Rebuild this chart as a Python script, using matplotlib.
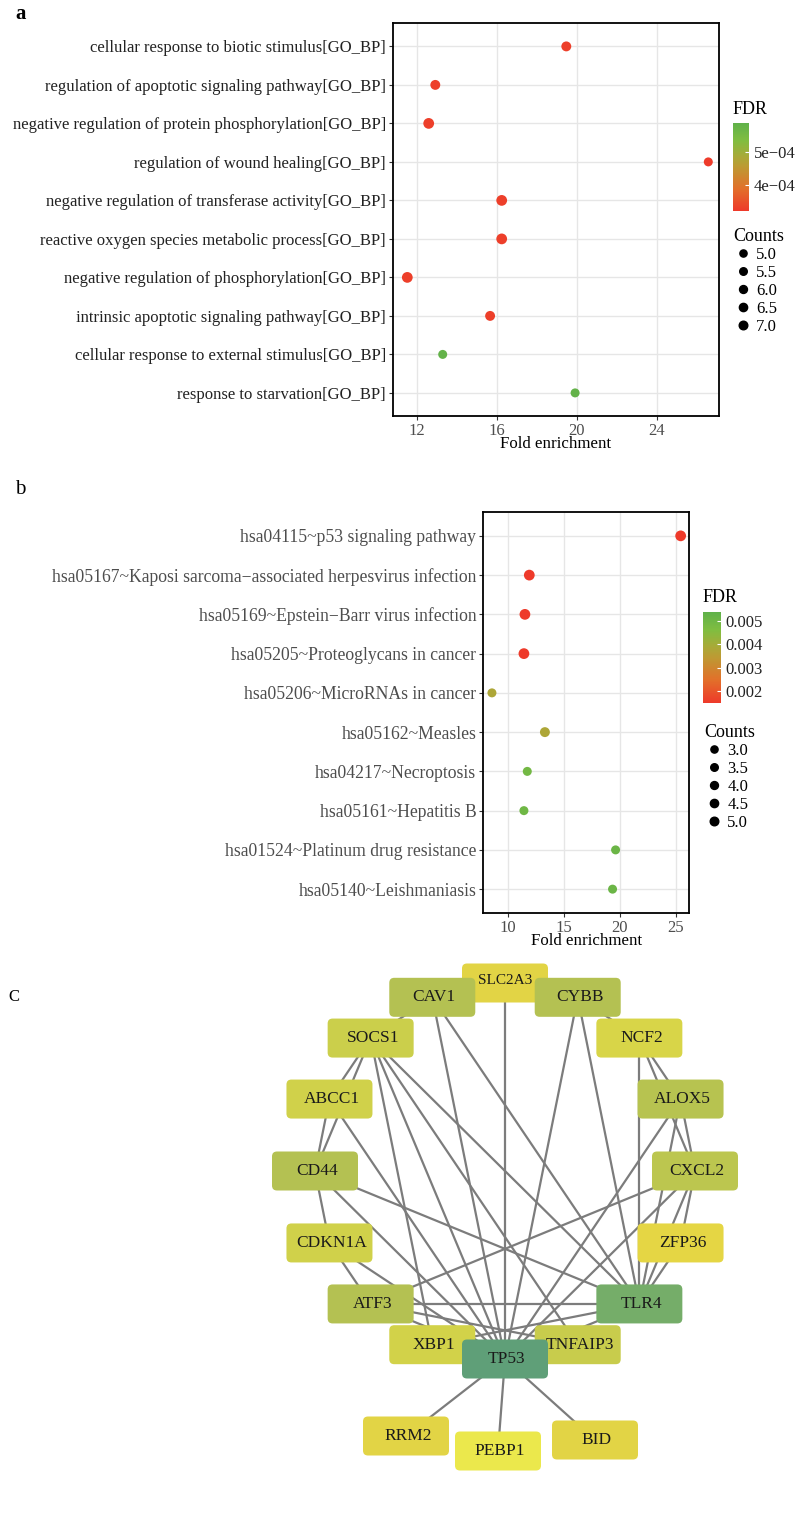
import numpy as np
import matplotlib
matplotlib.use("Agg")
import matplotlib.pyplot as plt
from matplotlib.colors import LinearSegmentedColormap, Normalize
from matplotlib.cm import ScalarMappable
from matplotlib.lines import Line2D
from matplotlib.patches import FancyBboxPatch

plt.rcParams['font.family'] = ['Liberation Serif', 'DejaVu Serif']

# ---- panel a : GO biological process ----
go_terms = [
    "cellular response to biotic stimulus[GO_BP]",
    "regulation of apoptotic signaling pathway[GO_BP]",
    "negative regulation of protein phosphorylation[GO_BP]",
    "regulation of wound healing[GO_BP]",
    "negative regulation of transferase activity[GO_BP]",
    "reactive oxygen species metabolic process[GO_BP]",
    "negative regulation of phosphorylation[GO_BP]",
    "intrinsic apoptotic signaling pathway[GO_BP]",
    "cellular response to external stimulus[GO_BP]",
    "response to starvation[GO_BP]",
]
go_fold = [19.48, 12.93, 12.6, 26.58, 16.25, 16.25, 11.53, 15.67, 13.3, 19.92]
go_fdr = [3.3e-4, 3.3e-4, 3.3e-4, 3.25e-4, 3.3e-4, 3.3e-4, 3.3e-4, 3.3e-4, 5.8e-4, 5.8e-4]
go_counts = [6, 6, 7, 5, 7, 7, 7, 6, 5, 5]
go_fdr_ticks = [4e-4, 5e-4]
go_fdr_ticklabels = ["4e\u221204", "5e\u221204"]
go_count_ticks = [5.0, 5.5, 6.0, 6.5, 7.0]
go_xticks = [12, 16, 20, 24]

# ---- panel b : KEGG pathways ----
kegg_terms = [
    "hsa04115~p53 signaling pathway",
    "hsa05167~Kaposi sarcoma\u2212associated herpesvirus infection",
    "hsa05169~Epstein\u2212Barr virus infection",
    "hsa05205~Proteoglycans in cancer",
    "hsa05206~MicroRNAs in cancer",
    "hsa05162~Measles",
    "hsa04217~Necroptosis",
    "hsa05161~Hepatitis B",
    "hsa01524~Platinum drug resistance",
    "hsa05140~Leishmaniasis",
]
kegg_fold = [25.42, 11.93, 11.54, 11.45, 8.6, 13.32, 11.75, 11.45, 19.62, 19.35]
kegg_fdr = [0.0015, 0.0015, 0.0015, 0.0015, 0.0038, 0.0038, 0.0049, 0.005, 0.0051, 0.0051]
kegg_counts = [5, 5, 5, 5, 3, 4, 3, 3, 3, 3]
kegg_fdr_ticks = [0.002, 0.003, 0.004, 0.005]
kegg_count_ticks = [3.0, 3.5, 4.0, 4.5, 5.0]
kegg_xticks = [10, 15, 20, 25]

# ---- panel C : PPI network ----
ring_genes = ["SLC2A3", "CAV1", "SOCS1", "ABCC1", "CD44", "CDKN1A", "ATF3", "XBP1",
              "TP53", "TNFAIP3", "TLR4", "ZFP36", "CXCL2", "ALOX5", "NCF2", "CYBB"]
outer_genes = ["RRM2", "PEBP1", "BID"]
edges = [
    ("SLC2A3", "TP53"),
    ("CAV1", "SOCS1"), ("CAV1", "TP53"), ("CAV1", "TLR4"),
    ("CYBB", "NCF2"), ("CYBB", "TP53"), ("CYBB", "TLR4"),
    ("SOCS1", "ABCC1"), ("SOCS1", "CD44"), ("SOCS1", "XBP1"), ("SOCS1", "TP53"),
    ("SOCS1", "TNFAIP3"), ("SOCS1", "TLR4"),
    ("ABCC1", "CD44"), ("ABCC1", "TP53"),
    ("CD44", "CDKN1A"), ("CD44", "TP53"), ("CD44", "TLR4"),
    ("CDKN1A", "ATF3"), ("CDKN1A", "TP53"),
    ("ATF3", "TLR4"), ("ATF3", "TP53"), ("ATF3", "CXCL2"), ("ATF3", "TNFAIP3"),
    ("NCF2", "ALOX5"), ("NCF2", "TLR4"), ("NCF2", "CXCL2"),
    ("ALOX5", "CXCL2"), ("ALOX5", "TLR4"), ("ALOX5", "TP53"),
    ("CXCL2", "ZFP36"), ("CXCL2", "TLR4"), ("CXCL2", "TP53"),
    ("ZFP36", "TLR4"),
    ("TLR4", "TP53"), ("TLR4", "XBP1"),
    ("XBP1", "TP53"), ("TNFAIP3", "TP53"),
    ("TP53", "RRM2"), ("TP53", "PEBP1"), ("TP53", "BID"),
]

node_colors = {
    "TP53": "#5f9f78", "TLR4": "#75ad69",
    "CAV1": "#b4c152", "CYBB": "#b4c152", "CD44": "#b4c152", "ATF3": "#b4c152",
    "ALOX5": "#b7c350", "CXCL2": "#bcc64f",
    "SOCS1": "#cbcf4b", "ABCC1": "#d0d14a", "CDKN1A": "#d0d14a", "NCF2": "#d8d548",
    "XBP1": "#d2d249", "TNFAIP3": "#c8cc4c",
    "SLC2A3": "#e2d445", "ZFP36": "#e5d644", "RRM2": "#e2d445", "BID": "#e2d445",
    "PEBP1": "#ebe84c",
}

W, H = 800, 1524
fig = plt.figure(figsize=(8, 15.24), dpi=100)


def px_box(x0, y0, x1, y1):
    return [x0 / W, 1 - y1 / H, (x1 - x0) / W, (y1 - y0) / H]


cmap = LinearSegmentedColormap.from_list(
    "fdr", [(0.0, "#ee3a2a"), (0.25, "#e2702a"), (0.5, "#bd9a33"),
            (0.62, "#a8aa38"), (0.8, "#80bd40"), (1.0, "#5fb14a")])


def dot_panel(ax, cax, terms, fold, fdr, counts, vmin, vmax, xlim, xticks,
              fdr_ticks, fdr_labels, count_ticks, count_min, count_max,
              legend_xy, fdr_title_xy, label_color, label_size):
    n = len(terms)
    ypos = np.arange(n)
    cnt = np.array(counts, dtype=float)
    sizes = 42 + (cnt - count_min) / (count_max - count_min) * 18
    norm = Normalize(vmin=vmin, vmax=vmax)
    ax.scatter(fold, ypos, c=fdr, cmap=cmap, norm=norm, s=sizes,
               edgecolors='none', zorder=3)
    ax.set_ylim(n - 0.4, -0.6)
    ax.set_xlim(*xlim)
    ax.set_yticks(ypos)
    ax.set_yticklabels(terms, fontsize=label_size, color=label_color)
    ax.set_xticks(xticks)
    ax.set_xticklabels([str(t) for t in xticks], fontsize=12, color='#4d4d4d')
    ax.grid(True, color='#e6e6e6', linewidth=1.0, zorder=0)
    ax.set_axisbelow(True)
    for sp in ax.spines.values():
        sp.set_linewidth(1.3)
        sp.set_color('black')
    ax.tick_params(axis='both', length=3, width=0.8, color='#333333', pad=2)
    ax.set_xlabel("Fold enrichment", fontsize=12.2, labelpad=-2)

    sm = ScalarMappable(norm=norm, cmap=cmap)
    cb = fig.colorbar(sm, cax=cax)
    cb.outline.set_visible(False)
    cb.set_ticks(fdr_ticks)
    cb.set_ticklabels(fdr_labels)
    cax.tick_params(length=3, width=0.8, color='white', direction='in',
                    labelsize=12, labelcolor='#222222', pad=3)
    fig.text(fdr_title_xy[0] / W, 1 - fdr_title_xy[1] / H, "FDR",
             fontsize=13, ha='left', va='center')

    handles = []
    for c in count_ticks:
        s = 42 + (c - count_min) / (count_max - count_min) * 18
        handles.append(Line2D([], [], marker='o', ls='', color='black',
                              markersize=np.sqrt(s) * 0.8))
    fig.legend(handles, ["%.1f" % c for c in count_ticks], title="Counts",
               loc='upper left', bbox_to_anchor=(legend_xy[0] / W, 1 - legend_xy[1] / H),
               frameon=False, fontsize=12, title_fontsize=13, alignment='left',
               labelspacing=0.12, handletextpad=0.2, handlelength=1.2,
               borderpad=0, borderaxespad=0)


# panel a
ax1 = fig.add_axes(px_box(392.7, 23.3, 719.3, 416))
cax1 = fig.add_axes(px_box(732.7, 122.7, 749.3, 210.7))
dot_panel(ax1, cax1, go_terms, go_fold, go_fdr, go_counts, 3.23e-4, 5.87e-4,
          (10.8, 27.13), go_xticks, go_fdr_ticks, go_fdr_ticklabels,
          go_count_ticks, 5, 7, (733, 228), (733, 109), '#222222', 12)

# panel b
ax2 = fig.add_axes(px_box(483.3, 512.3, 689.3, 912.7))
cax2 = fig.add_axes(px_box(703.3, 611.7, 721, 702.7))
dot_panel(ax2, cax2, kegg_terms, kegg_fold, kegg_fdr, kegg_counts, 0.0015, 0.00538,
          (7.83, 26.19), kegg_xticks, kegg_fdr_ticks,
          ["%.3f" % t for t in kegg_fdr_ticks],
          kegg_count_ticks, 3, 5, (704, 724), (703, 597), '#4d4d4d', 12.7)

fig.text(15 / W, 1 - 14 / H, "a", fontsize=15, fontweight='bold', ha='left', va='center')
fig.text(15 / W, 1 - 489 / H, "b", fontsize=15, ha='left', va='center')
fig.text(8 / W, 1 - 997 / H, "C", fontsize=12, ha='left', va='center')

# panel C network
ax3 = fig.add_axes(px_box(0, 950, 800, 1524))
ax3.set_xlim(0, W)
ax3.set_ylim(H, 950)
ax3.axis('off')

cx, cy, rx, ry = 505, 1171, 190, 188
pos = {}
for k, g in enumerate(ring_genes):
    th = np.deg2rad(90 + k * 360 / len(ring_genes))
    pos[g] = (cx + rx * np.cos(th), cy - ry * np.sin(th))
tpx, tpy = pos["TP53"]
for g, (dx, dy) in zip(outer_genes, [(-99, 77), (-7, 92), (90, 81)]):
    pos[g] = (tpx + dx, tpy + dy)

for a, b in edges:
    ax3.plot([pos[a][0], pos[b][0]], [pos[a][1], pos[b][1]],
             color='#7c7c7c', lw=1.6, zorder=1, solid_capstyle='butt')

bw, bh = 86, 39
draw_order = ["SLC2A3"] + [g for g in ring_genes + outer_genes if g not in ("SLC2A3", "TP53")] + ["TP53"]
for i, g in enumerate(draw_order):
    x, y = pos[g]
    box = FancyBboxPatch((x - bw / 2, y - bh / 2), bw, bh,
                         boxstyle="round,pad=0,rounding_size=5",
                         facecolor=node_colors[g], edgecolor='none', zorder=2 + i)
    ax3.add_patch(box)
    if g == "SLC2A3":
        ax3.text(x, y - 3, g, fontsize=11, ha='center', va='center', zorder=2 + i, color='#1a1a1a')
    else:
        ax3.text(x + 2, y, g, fontsize=12.5, ha='center', va='center', zorder=2 + i, color='#1a1a1a')

fig.savefig("out.png", dpi=100)
